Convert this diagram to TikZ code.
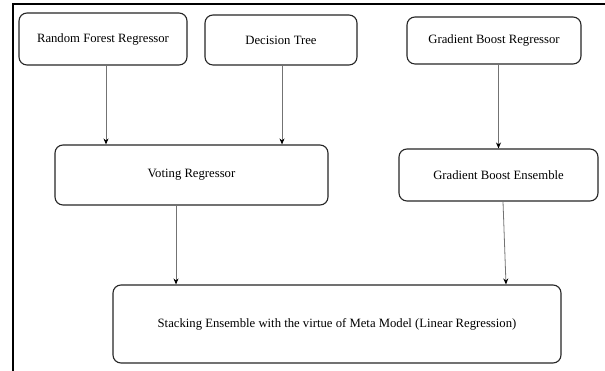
\documentclass[tikz,border=0pt]{standalone}
\usepackage{fontspec}
\setmainfont{Liberation Serif}
\usetikzlibrary{arrows.meta,calc}
\begin{document}
\begin{tikzpicture}[x=1pt,y=1pt,
  box/.style={draw=black!85,line width=1.1pt,rounded corners=8pt,fill=white,inner sep=0pt,font=\fontsize{12.7}{15}\selectfont},
  arr/.style={draw=black!55,line width=0.8pt,-{Stealth[length=6pt,width=5pt,color=black]}},
  frame/.style={draw=black,line width=1.4pt}]
\useasboundingbox (0,0) rectangle (605,371);
\coordinate (fbl) at (13,0);
\coordinate (ftl) at (13,367);
\coordinate (ftr) at (605,367);
\draw[frame] (fbl) -- (ftl) -- (ftr);
\node[box,minimum width=168pt,minimum height=52pt] (rfr) at (103,332) {Random Forest Regressor};
\node[box,minimum width=152pt,minimum height=50pt] (dt) at (281,331) {Decision Tree};
\node[box,minimum width=174pt,minimum height=47pt] (gbr) at (494,330.5) {Gradient Boost Regressor};
\node[box,minimum width=273pt,minimum height=60pt] (vr) at (191.5,196) {Voting Regressor};
\node[box,minimum width=199pt,minimum height=52pt] (gbe) at (498.5,196) {Gradient Boost Ensemble};
\node[box,minimum width=448pt,minimum height=78pt] (st) at (337,47) {Stacking Ensemble with the virtue of Meta Model (Linear Regression)};
\coordinate (xa) at (106,0);
\coordinate (xb) at (282,0);
\coordinate (xc) at (498.5,0);
\coordinate (xd) at (176,0);
\coordinate (xe) at (503,0);
\coordinate (xf) at (506,0);
\draw[arr] (rfr.south -| xa) -- (vr.north -| xa);
\draw[arr] (dt.south -| xb) -- (vr.north -| xb);
\draw[arr] (gbr.south -| xc) -- (gbe.north -| xc);
\draw[arr] (vr.south -| xd) -- (st.north -| xd);
\draw[arr] (gbe.south -| xe) -- (st.north -| xf);
\end{tikzpicture}
\end{document}
